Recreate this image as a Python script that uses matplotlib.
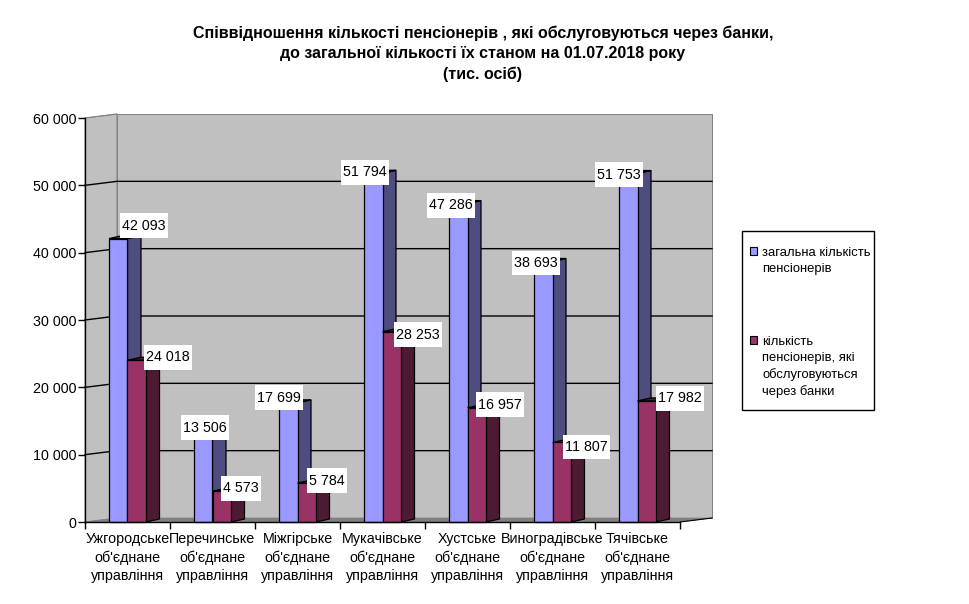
import matplotlib
matplotlib.use("Agg")
import matplotlib.pyplot as plt
from matplotlib.patches import Patch, Rectangle
from matplotlib.path import Path

plt.rcParams['font.family'] = ['Liberation Sans', 'DejaVu Sans']

categories = ["Ужгородське\nоб'єднане\nуправління", "Перечинське\nоб'єднане\nуправління",
              "Міжгірське\nоб'єднане\nуправління", "Мукачівське\nоб'єднане\nуправління",
              "Хустське\nоб'єднане\nуправління", "Виноградівське\nоб'єднане\nуправління",
              "Тячівське\nоб'єднане\nуправління"]
total = [42093, 13506, 17699, 51794, 47286, 38693, 51753]
banks = [24018, 4573, 5784, 28253, 16957, 11807, 17982]
series_names = ["загальна кількість\nпенсіонерів", "кількість\nпенсіонерів, які\nобслуговуються\nчерез банки"]
y_ticks = [0, 10000, 20000, 30000, 40000, 50000, 60000]
title = ("Співвідношення кількості пенсіонерів , які обслуговуються через банки,\n"
         "до загальної кількості їх станом на 01.07.2018 року\n(тис. осіб)")

# layout: label offsets from the bar top, in pixels
total_off = [(26, 13), (2, 3.5), (-9, 5), (-8, 1), (-7, -1.5), (-7, -1.5), (-9, -1)]
banks_off = [(31, 3), (19, 3), (20, 2.5), (26, -3), (23, 3), (25, -4.5), (33, 2.5)]

W, H = 970, 604
fig = plt.figure(figsize=(W / 100, H / 100), dpi=100, facecolor='white')
ax = fig.add_axes([85 / W, (H - 522) / H, 595 / W, 404 / H])
ax.set_xlim(0, 7)
ax.set_ylim(0, 60000)
ax.patch.set_visible(False)
for s in ('top', 'right'):
    ax.spines[s].set_visible(False)
for s in ('left', 'bottom'):
    ax.spines[s].set_linewidth(1.0)
    ax.spines[s].set_zorder(6)

px_x = 7 / 595
px_y = 60000 / 404
DX, DY = 32 * px_x, 4 * px_y
BW = 18.5 * px_x
BDX, BDY = 13.5 * px_x, 3 * px_y

WALL, FLOOR, EDGE = '#C0C0C0', '#808080', '#808080'
ax.fill([0, DX, DX, 0], [0, DY, 60000 + DY, 60000], fc=WALL, ec=EDGE, lw=0.7, clip_on=False, zorder=0)
ax.fill([DX, 7 + DX, 7 + DX, DX], [DY, DY, 60000 + DY, 60000 + DY], fc=WALL, ec=EDGE, lw=0.7, clip_on=False, zorder=0)
ax.fill([0, 7, 7 + DX, DX], [0, 0, DY, DY], fc=FLOOR, ec=FLOOR, lw=0.5, clip_on=False, zorder=0.5)
ax.plot([7, 7 + DX], [0, DY], color='black', lw=0.8, clip_on=False, zorder=0.6)
for v in y_ticks[1:-1]:
    ax.plot([0, DX, 7 + DX], [v, v + DY, v + DY], color='black', lw=1.0, clip_on=False, zorder=1)
ax.plot([0, DX], [60000, 60000 + DY], color=EDGE, lw=0.7, clip_on=False, zorder=1)


def draw_series(x0, values, front, side, z):
    bars = ax.bar([i + x0 for i in range(len(values))], values, width=BW, align='edge',
                  color=front, edgecolor='black', linewidth=0.9, zorder=z + 1, clip_on=False)
    for i, v in enumerate(values):
        xr = i + x0 + BW
        ax.fill([xr, xr + BDX, xr + BDX, xr], [0, BDY, v + BDY, v], fc=side, ec='black', lw=0.9,
                zorder=z, clip_on=False)
        ax.fill([xr - BW, xr, xr + BDX, xr - BW + BDX], [v, v, v + BDY, v + BDY], fc=side, ec='black',
                lw=0.9, zorder=z, clip_on=False)
    return bars


b1 = draw_series(0.5 - BW, total, '#9999FF', '#4D4D80', 2)
b2 = draw_series(0.5, banks, '#993366', '#4D1A33', 4)


def label_box(x0, y0, width, height, mutation_size):
    px, py = 0.14 * mutation_size, 0.38 * mutation_size
    x1, y1 = x0 + width + px, y0 + height + py
    x0, y0 = x0 - px, y0 - py
    return Path([(x0, y0), (x1, y0), (x1, y1), (x0, y1), (x0, y0)], closed=True)


FS = 10.3
for i in range(len(categories)):
    for x0, vals, offs in ((0.5 - BW / 2, total, total_off), (0.5 + BW / 2, banks, banks_off)):
        v = vals[i]
        ax.annotate(f"{v:,}".replace(",", " "), (i + x0, v), xytext=offs[i], textcoords='offset pixels',
                    ha='center', va='center', fontsize=FS, color='black', zorder=10, annotation_clip=False,
                    bbox=dict(boxstyle=label_box, fc='white', ec='none'))

ax.set_yticks(y_ticks)
ax.set_yticklabels([f"{v:,}".replace(",", " ") for v in y_ticks], fontsize=FS)
ax.set_xticks(range(8))
ax.set_xticklabels([])
ax.set_xticks([i + 0.5 for i in range(7)], minor=True)
ax.set_xticklabels(categories, minor=True, fontsize=FS, linespacing=1.36, ha='center', va='top')
ax.tick_params(axis='x', which='minor', length=0, pad=7.5)
ax.tick_params(axis='y', which='major', length=5, width=1.0, pad=1)
ax.tick_params(axis='x', which='major', length=5, width=1.0)

fig.text(483 / W, 1 - 26 / H, title, ha='center', va='top', fontsize=11.55, fontweight='bold',
         linespacing=1.4)

fig.add_artist(Rectangle((742 / W, 1 - 410 / H), 132 / W, 179 / H, transform=fig.transFigure,
                         fc='white', ec='black', lw=1.0))
handles = [Patch(fc='#9999FF', ec='black', lw=0.8), Patch(fc='#993366', ec='black', lw=0.8)]
leg = fig.legend(handles, series_names, loc='upper left', bbox_to_anchor=(750 / W, 1 - 247 / H),
                 borderaxespad=0, frameon=False, fontsize=9.35, handlelength=0.55, handleheight=0.55,
                 handletextpad=0.38, labelspacing=4.75, borderpad=0, labelcolor='black')
leg.set_zorder(5)
for t in leg.get_texts():
    t.set_linespacing(1.42)
for row in leg._legend_handle_box.get_children()[0].get_children():
    row.align = 'top'

fig.savefig('out.png', dpi=100)
